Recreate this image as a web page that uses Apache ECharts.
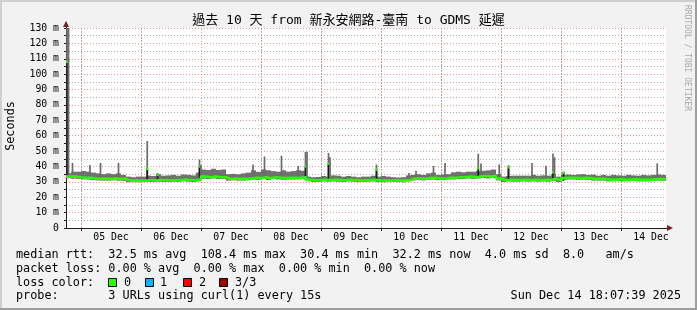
<!DOCTYPE html>
<html><head><meta charset="utf-8">
<script src="https://cdn.jsdelivr.net/npm/echarts@6/dist/echarts.min.js"></script>
<style>html,body{margin:0;padding:0;background:#f2f2f2;overflow:hidden}#c{width:697px;height:310px}</style>
</head><body><div id="c"></div>
<script>
// time in hours since 04 Dec 00:00; samples every 2 hours from 18:00
const startHour = 18, stepHours = 2;
const medianRtt = [
 33.4,33.4,33.0,32.7,32.7,32.2,32.0,31.9,31.9,32.2,
 31.9,31.9,30.8,30.8,30.8,30.8,31.0,31.0,31.2,31.0,
 31.0,31.2,31.0,31.5,31.2,31.0,31.5,33.4,33.0,33.4,
 33.0,33.0,31.9,32.2,31.9,31.9,32.2,32.7,32.4,33.0,
 32.4,33.0,32.7,32.4,32.7,32.7,32.7,33.0,31.4,31.0,
 31.0,31.4,31.2,31.4,31.2,31.0,31.4,31.2,30.8,31.0,
 31.2,31.4,30.8,30.8,30.8,31.0,30.8,30.8,31.4,32.2,
 32.2,32.0,32.4,32.7,32.2,32.2,32.7,32.7,33.0,33.0,
 33.4,33.0,33.4,33.8,33.4,33.8,32.2,31.0,31.4,31.2,
 31.2,31.4,31.2,31.4,31.2,31.4,31.2,32.0,31.0,32.4,
 32.7,32.7,32.4,32.7,32.4,31.9,31.9,31.9,31.4,31.4,
 31.7,31.4,31.4,31.7,31.4,31.4,31.4,31.7,31.9,31.7
];
const smokeTop = [
 35.5,36.6,36.6,37.0,36.6,36.0,35.5,35.0,35.5,35.0,
 35.5,34.5,33.4,33.0,33.4,33.4,34.0,33.8,35.0,34.0,
 34.2,34.5,34.0,34.8,34.5,34.2,36.0,38.0,37.7,38.5,
 37.7,38.0,35.0,35.2,34.9,35.5,36.0,37.5,36.5,38.0,
 37.5,37.0,36.6,37.5,36.6,37.0,37.5,37.2,33.4,33.0,
 33.2,33.8,33.4,34.2,34.0,33.4,33.8,33.4,33.0,33.4,
 33.4,34.0,33.4,33.8,33.4,33.0,32.8,33.0,34.2,34.5,
 35.0,34.5,35.5,36.0,34.5,34.8,35.0,36.2,36.6,36.2,
 36.6,36.6,37.0,37.2,37.5,38.0,35.0,33.4,33.8,34.0,
 34.0,34.0,34.0,34.5,34.0,34.2,34.0,35.0,33.4,34.5,
 34.8,34.5,34.8,35.0,34.5,34.7,34.0,34.5,34.0,34.5,
 34.2,34.0,34.5,34.2,34.0,34.5,34.2,34.5,34.8,34.5
];
const smokeLow = [
 32.3,32.2,31.9,31.6,31.5,31.1,30.9,30.8,30.8,31.0,
 30.8,30.7,29.8,29.8,29.7,29.8,29.9,29.9,30.1,29.9,
 29.9,30.1,29.9,30.4,30.1,29.9,30.3,32.0,31.8,32.2,
 31.8,31.8,30.8,31.0,30.8,30.8,31.0,31.5,31.3,31.8,
 31.2,31.8,31.5,31.3,31.5,31.5,31.6,31.8,30.3,29.9,
 29.9,30.3,30.1,30.3,30.1,29.9,30.3,30.1,29.8,29.9,
 30.1,30.3,29.8,29.7,29.8,29.9,29.8,29.7,30.3,31.0,
 31.1,30.9,31.2,31.5,31.1,31.1,31.5,31.5,31.8,31.9,
 32.2,31.9,32.2,32.5,32.2,32.5,31.0,29.9,30.3,30.1,
 30.1,30.3,30.1,30.3,30.1,30.3,30.1,30.8,29.9,31.2,
 31.5,31.5,31.3,31.5,31.3,30.8,30.8,30.8,30.3,30.3,
 30.6,30.3,30.3,30.6,30.3,30.3,30.3,30.6,30.8,30.6
];
// short spikes (hours since 04 Dec 00:00)
const spikeHours  = [18.4,19.0,20.6,27.6,31.8,39.0,50.5,54.6,71.4,72.0,92.8,97.4,104.2,110.9,113.8,114.4,123.0,123.6,142.2,155.2,158.0,165.0,169.6,182.9,184.0,191.3,195.0,204.4,210.0,212.8,213.4,217.0,254.5];
const spikeLow    = [33,33,32,31.5,31,31,30.5,30.5,31,32,31.5,32,32,32,31.5,31.5,30.5,30.5,30.5,31,31.5,32,32,32.5,32.5,31,31,30.8,30.8,30.8,30.8,30.8,31];
const spikeTop    = [130,130,42.3,41.0,42.3,42.3,56.6,35.8,44.5,41.0,41.3,46.5,47.0,40.3,49.5,49.5,48.8,46.0,41.3,35.8,37.0,40.3,42.3,48.2,42.0,41.3,40.8,42.2,40.5,48.5,46.0,36.5,42.0];
const spikeMedian = [108,null,null,null,null,null,38.4,34.5,40.0,null,null,null,null,null,40.0,null,41.8,null,37.9,null,null,null,null,38.9,null,null,39.5,null,null,36.2,null,36.0,null];
const dayTicks = [24,48,72,96,120,144,168,192,216,240];
const dayLabelHours = [36,60,84,108,132,156,180,204,228,252];
const dayLabels = ['05 Dec','06 Dec','07 Dec','08 Dec','09 Dec','10 Dec','11 Dec','12 Dec','13 Dec','14 Dec'];
const titleText = '過去 10 天 from 新永安網路-臺南 to GDMS 延遲';
const legendLines = [
 'median rtt:  32.5 ms avg  108.4 ms max  30.4 ms min  32.2 ms now  4.0 ms sd  8.0   am/s',
 'packet loss: 0.00 % avg  0.00 % max  0.00 % min  0.00 % now',
 'loss color:',
 'probe:       3 URLs using curl(1) every 15s'
];
const lossLabels = ['0','1','2','3/3'];
const lossColors = ['#26ff00','#00b8ff','#ff0000','#a00000'];
const dateText = 'Sun Dec 14 18:07:39 2025';

const MONO = "'DejaVu Sans Mono','Noto Sans CJK TC',monospace";
const GRID = 'rgba(143,143,143,0.75)';
const MGRID = 'rgba(222,79,79,0.6)';
const smokeData = medianRtt.map((m,i)=>[startHour+stepHours*i, smokeLow[i], smokeTop[i]]);
const medianData = medianRtt.map((m,i)=>[startHour+stepHours*i, m]);
medianData.push([startHour+stepHours*medianRtt.length, medianRtt[medianRtt.length-1]]);
const spikeData = spikeHours.map((h,i)=>[h, spikeLow[i], spikeTop[i], spikeMedian[i]==null?'-':spikeMedian[i]]);
const xColors = [GRID,GRID,'rgba(0,0,0,0)',GRID,GRID,GRID,GRID,GRID];

const chart = echarts.init(document.getElementById('c'), null, {renderer:'canvas'});
const graphics = [
 {type:'rect', shape:{x:0,y:0,width:697,height:2}, style:{fill:'#cfcfcf'}},
 {type:'rect', shape:{x:0,y:0,width:2,height:310}, style:{fill:'#cfcfcf'}},
 {type:'rect', shape:{x:0,y:308,width:697,height:2}, style:{fill:'#9e9e9e'}},
 {type:'rect', shape:{x:695,y:0,width:2,height:310}, style:{fill:'#9e9e9e'}},
 {type:'text', x:348.5, y:21, style:{text:titleText, font:"13px "+MONO, fill:'#000', align:'center', verticalAlign:'middle'}},
 {type:'text', x:687, y:5, rotation:-Math.PI/2, style:{text:'RRDTOOL / TOBI OETIKER', font:"8px "+MONO, fill:'#a8a8a8', align:'left', verticalAlign:'middle'}},
 {type:'text', x:11, y:126, rotation:Math.PI/2, style:{text:'Seconds', font:"11.8px "+MONO, fill:'#000', align:'center', verticalAlign:'middle'}},
 {type:'polygon', shape:{points:[[63,27],[69,27],[66,21]]}, style:{fill:'#801f1f'}, z:10},
 {type:'polygon', shape:{points:[[667,225],[667,231],[673,228]]}, style:{fill:'#801f1f'}, z:10},
 {type:'line', shape:{x1:66.5,y1:22,x2:66.5,y2:28}, style:{stroke:'#1f1f1f',lineWidth:1}},
 {type:'line', shape:{x1:666,y1:228.5,x2:669,y2:228.5}, style:{stroke:'#1f1f1f',lineWidth:1}},
 {type:'text', x:681, y:296, style:{text:dateText, font:"11.8px "+MONO, fill:'#000', align:'right', verticalAlign:'middle'}}
];
const rowY = [255, 268.5, 282.5, 296];
legendLines.forEach((t,i)=>graphics.push({type:'text', x:16, y:rowY[i], style:{text:t, font:"11.8px "+MONO, fill:'#000', align:'left', verticalAlign:'middle'}}));
const boxX = [108,145,183,219], lblX = [124,160,199,235];
lossLabels.forEach((l,i)=>{
 graphics.push({type:'rect', shape:{x:boxX[i]+0.5,y:278.5,width:8,height:8}, style:{fill:lossColors[i], stroke:'#000', lineWidth:1}});
 graphics.push({type:'text', x:lblX[i], y:282.5, style:{text:l, font:"11.8px "+MONO, fill:'#000', align:'left', verticalAlign:'middle'}});
});

chart.setOption({
 animation:false,
 backgroundColor:'#f2f2f2',
 grid:{left:66, top:28, width:600, height:200, show:true, backgroundColor:'#ffffff', borderWidth:0, containLabel:false, outerBoundsMode:'none'},
 xAxis:[{
  type:'value', min:18, max:258, interval:3,
  axisLine:{show:true, onZero:false, lineStyle:{color:'#1f1f1f', width:1}},
  axisTick:{show:true, length:3, customValues:dayTicks, lineStyle:{color:'#1f1f1f'}},
  axisLabel:{show:true, margin:5, fontFamily:MONO, fontSize:9.8, color:'#000',
    formatter:v=>{const k=dayLabelHours.indexOf(v); return k>=0?dayLabels[k]:'';}},
  splitLine:{show:true, lineStyle:{color:xColors, type:[1,2], width:1}}
 }],
 yAxis:[{
  type:'value', min:0, max:130, interval:5,
  axisLine:{show:true, lineStyle:{color:'#1f1f1f', width:1}},
  axisTick:{show:true, length:2, lineStyle:{color:'#1f1f1f'}},
  axisLabel:{margin:7, fontFamily:MONO, fontSize:9.8, color:'#000',
    formatter:v=>v%10===0?(v===0?'0':v+' m'):''},
  splitLine:{show:true, lineStyle:{color:['rgba(0,0,0,0)',GRID], type:[1,2], width:1}}
 },{
  type:'value', min:0, max:130, interval:10, position:'left',
  axisLine:{show:false}, axisTick:{show:false}, axisLabel:{show:false},
  splitLine:{show:true, showMinLine:false, lineStyle:{color:MGRID, type:[1,2], width:1}}
 }],
 graphic:graphics,
 series:[
  {type:'custom', name:'smoke', z:2, data:smokeData, encode:{x:0,y:[1,2]},
   renderItem:(params, api)=>{
     const h=api.value(0), lo=api.value(1), hi=api.value(2);
     const p0=api.coord([h,hi]), p1=api.coord([h+stepHours,lo]);
     return {type:'rect', shape:{x:p0[0], y:p0[1], width:p1[0]-p0[0], height:p1[1]-p0[1]}, style:{fill:'#707070'}};
   }},
  {type:'custom', name:'spikes', z:3, data:spikeData, encode:{x:0,y:[1,2]},
   renderItem:(params, api)=>{
     const h=api.value(0), lo=api.value(1), hi=api.value(2), md=api.value(3);
     const pl=api.coord([h,lo]), ph=api.coord([h,hi]);
     const w=1.7;
     const children=[{type:'rect', shape:{x:pl[0]-w/2, y:ph[1], width:w, height:pl[1]-ph[1]}, style:{fill:'#6a6a6a'}}];
     if(!isNaN(md)){
       const pm=api.coord([h,md]);
       children.push({type:'rect', shape:{x:pl[0]-w/2, y:pm[1], width:w, height:pl[1]-pm[1]}, style:{fill:'#1a1a1a'}});
       children.push({type:'rect', shape:{x:pl[0]-1, y:pm[1]-1.25, width:2.2, height:2.5}, style:{fill:'#26ff00'}});
     }
     return {type:'group', children};
   }},
  {type:'line', name:'median', z:4, step:'end', showSymbol:false, data:medianData,
   lineStyle:{color:'#26ff00', width:2.6}, itemStyle:{color:'#26ff00'},
   markLine:{silent:true, z:1, symbol:['none','none'], label:{show:false},
     lineStyle:{color:MGRID, type:[1,2], width:1}, emphasis:{disabled:true},
     data:dayTicks.map(t=>({xAxis:t}))}}
 ]
});
</script></body></html>
